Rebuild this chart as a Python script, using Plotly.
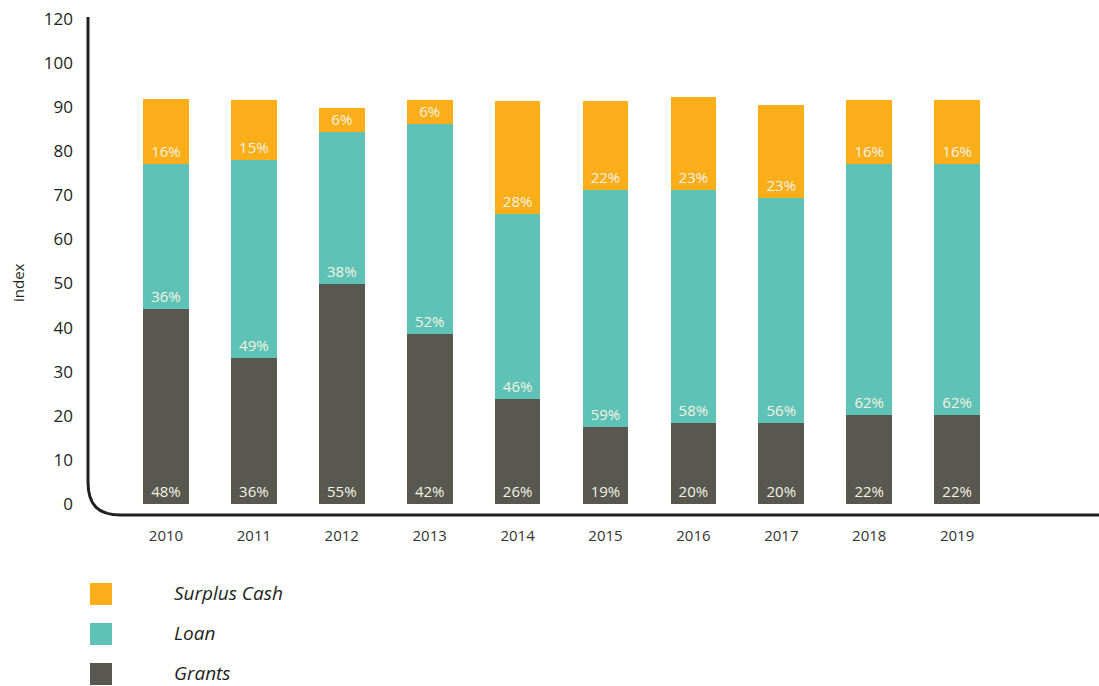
import plotly.graph_objects as go

# Funding mix per year: total index and share (%) of each source
years = ["2010", "2011", "2012", "2013", "2014", "2015", "2016", "2017", "2018", "2019"]
totals = [91.9, 91.7, 89.9, 91.7, 91.4, 91.4, 92.3, 90.5, 91.7, 91.7]
grants_pct = [48, 36, 55, 42, 26, 19, 20, 20, 22, 22]
loan_pct = [36, 49, 38, 52, 46, 59, 58, 56, 62, 62]
surplus_pct = [16, 15, 6, 6, 28, 22, 23, 23, 16, 16]

y_tickvals = [0, 10, 20, 30, 40, 50, 60, 70, 80, 90, 100, 110]
y_ticktext = ["0", "10", "20", "30", "40", "50", "60", "70", "80", "90", "100", "120"]

series = [
    ("Grants", grants_pct, "#585850"),
    ("Loan", loan_pct, "#5EC2B6"),
    ("Surplus Cash", surplus_pct, "#F9AE1A"),
]

W, H = 1099, 686
M_L, M_R, M_T, M_B = 88, 0, 18, 171
PW, PH = W - M_L - M_R, H - M_T - M_B


def px_x(px):
    return (px - M_L) / PW


def px_y(py):
    return (H - M_B - py) / PH


fig = go.Figure()
for name, pct, color in series:
    sums = [g + l + s for g, l, s in zip(grants_pct, loan_pct, surplus_pct)]
    vals = [t * p / s for t, p, s in zip(totals, pct, sums)]
    fig.add_trace(go.Bar(
        x=years, y=vals, name=name,
        marker=dict(color=color, line=dict(width=0)),
        width=0.52,
        text=[f"{p}%" for p in pct],
        textposition="inside",
        insidetextanchor="start",
        constraintext="none",
        textfont=dict(family="Open Sans", size=15, color="#F5F2E2"),
        textangle=0,
        showlegend=False,
        hoverinfo="skip",
    ))

# Axis frame with a rounded lower-left corner
x0 = px_x(88)
y_top = px_y(17)
y_bend = px_y(482)
x_bend = px_x(121)
y_base = px_y(515)
frame = (f"M {x0},{y_top} L {x0},{y_bend} "
         f"C {x0},{px_y(505)} {px_x(98)},{y_base} {x_bend},{y_base} "
         f"L {px_x(1099)},{y_base}")
shapes = [dict(type="path", path=frame, xref="paper", yref="paper",
               line=dict(color="#231F20", width=3))]

# Legend drawn as swatches and italic labels
annotations = []
legend_rows = [("Surplus Cash", "#F9AE1A"), ("Loan", "#5EC2B6"), ("Grants", "#585850")]
for i, (name, color) in enumerate(legend_rows):
    top = 583 + 40 * i
    shapes.append(dict(type="rect", xref="paper", yref="paper",
                       x0=px_x(90), x1=px_x(112), y0=px_y(top), y1=px_y(top + 22),
                       fillcolor=color, line=dict(width=0)))
    annotations.append(dict(text=f"<i>{name}</i>", xref="paper", yref="paper",
                            x=px_x(172), y=px_y(top + 9.5), xanchor="left", yanchor="middle",
                            showarrow=False,
                            font=dict(family="Open Sans", size=19, color="#231F20")))

annotations.append(dict(text="index", xref="paper", yref="paper",
                        x=px_x(18), y=px_y(283), textangle=-90,
                        xanchor="center", yanchor="middle", showarrow=False,
                        font=dict(family="Open Sans", size=15, color="#231F20")))

fig.update_layout(
    width=W, height=H,
    margin=dict(l=M_L, r=M_R, t=M_T, b=M_B, pad=0),
    barmode="stack",
    plot_bgcolor="white", paper_bgcolor="white",
    shapes=shapes, annotations=annotations,
    xaxis=dict(range=[-0.887, 10.614], showline=False, showgrid=False, zeroline=False,
               ticks="", ticklabelstandoff=10,
               tickfont=dict(family="Open Sans", size=15, color="#333333")),
    yaxis=dict(range=[-2.49, 110.2], showline=False, showgrid=False, zeroline=False,
               tickvals=y_tickvals, ticktext=y_ticktext, ticks="",
               ticklabelstandoff=14,
               tickfont=dict(family="Open Sans", size=17, color="#231F20")),
)

fig.write_html("out.html")
